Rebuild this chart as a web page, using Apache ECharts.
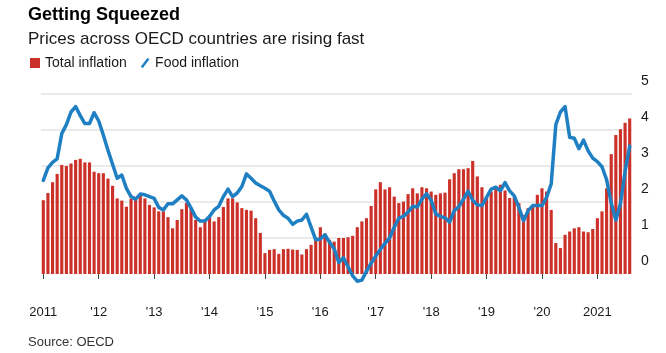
<!DOCTYPE html>
<html>
<head>
<meta charset="utf-8">
<title>Getting Squeezed</title>
<script src="https://cdn.jsdelivr.net/npm/echarts@6/dist/echarts.min.js"></script>
<style>
	html, body {
		margin: 0;
		padding: 0;
		background: #fff;
	}

	#chart {
		width: 666px;
		height: 353px;
	}
</style>
</head>
<body>
<div id="chart"></div>
<script>
	// monthly, Jan 2011 .. Aug 2021, year-on-year change in %
	const years = [2011, 2012, 2013, 2014, 2015, 2016, 2017, 2018, 2019, 2020, 2021];
	const yearLabels = ['2011', "'12", "'13", "'14", "'15", "'16", "'17", "'18", "'19", "'20", '2021'];

	const totalInflation = [
		2.05, 2.25, 2.55, 2.78, 3.03, 3.0, 3.07, 3.17, 3.2, 3.1, 3.1, 2.84,
		2.8, 2.8, 2.65, 2.45, 2.1, 2.04, 1.87, 2.09, 2.1, 2.2, 2.1, 1.92,
		1.85, 1.74, 1.74, 1.58, 1.27, 1.5, 1.8, 1.97, 1.83, 1.5, 1.3, 1.49,
		1.64, 1.46, 1.58, 1.86, 2.1, 2.1, 1.99, 1.83, 1.78, 1.76, 1.55, 1.14,
		0.58, 0.67, 0.69, 0.56, 0.69, 0.7, 0.68, 0.67, 0.54, 0.69, 0.81, 0.95,
		1.3, 1.12, 0.95, 0.9, 1.0, 1.0, 1.02, 1.06, 1.3, 1.46, 1.55, 1.89,
		2.35, 2.55, 2.35, 2.41, 2.15, 1.97, 2.01, 2.22, 2.38, 2.24, 2.41, 2.38,
		2.29, 2.2, 2.24, 2.26, 2.63, 2.8, 2.91, 2.91, 2.94, 3.14, 2.71, 2.41,
		2.13, 2.29, 2.43, 2.48, 2.32, 2.11, 2.13, 1.97, 1.64, 1.83, 1.92, 2.2,
		2.38, 2.29, 1.78, 0.86, 0.72, 1.09, 1.18, 1.27, 1.3, 1.18, 1.16, 1.25,
		1.55, 1.74, 2.38, 3.33, 3.86, 4.02, 4.2, 4.32
	];

	const foodInflation = [
		2.6, 2.95, 3.1, 3.2, 3.9, 4.15, 4.5, 4.65, 4.4, 4.18, 4.18, 4.48,
		4.25, 3.86, 3.44, 3.05, 2.66, 2.75, 2.38, 2.15, 2.08, 2.22, 2.2, 2.15,
		2.1, 1.85, 1.78, 1.95, 1.95, 2.06, 2.17, 2.06, 1.83, 1.58, 1.47, 1.47,
		1.6, 1.78, 1.88, 2.15, 2.36, 2.15, 2.25, 2.43, 2.78, 2.66, 2.53, 2.45,
		2.38, 2.3, 2.03, 1.78, 1.63, 1.55, 1.38, 1.47, 1.5, 1.66, 1.3, 0.95,
		0.97, 1.09, 0.88, 0.7, 0.32, 0.45, 0.2, -0.05, -0.2, -0.17, 0.08, 0.3,
		0.5, 0.68, 0.85, 1.0, 1.3, 1.55, 1.6, 1.72, 1.88, 1.86, 2.08, 2.23,
		2.05, 1.67, 1.6, 1.56, 1.44, 1.76, 1.87, 2.08, 2.3, 2.05, 1.92, 1.9,
		2.13, 2.36, 2.41, 2.31, 2.54, 2.31, 2.17, 1.85, 1.48, 1.76, 1.9, 1.9,
		1.9, 2.13, 2.5, 4.15, 4.5, 4.65, 3.8, 3.77, 3.48, 3.72, 3.42, 3.22,
		3.12, 2.98, 2.62, 1.97, 1.5, 1.95, 2.85, 3.55
	];

	const months = [];
	years.forEach(y => {
		for (let m = 1; m <= 12; m++) {
			if (months.length < totalInflation.length) {
				months.push(y + '-' + (m < 10 ? '0' + m : m));
			}
		}
	});

	const red = '#cc3129';
	const blue = '#1e7fc3';
	const clear = 'rgba(0,0,0,0)';
	// only the 1..5 lines are drawn, the half steps and 0 stay invisible
	const gridColors = [clear, clear, clear, '#e3e3e3', clear, '#e3e3e3',
		clear, '#e3e3e3', clear, '#e3e3e3', clear, '#e3e3e3'];

	const chart = echarts.init(document.getElementById('chart'), null, { renderer: 'canvas' });

	const option = {
		animation: false,
		textStyle: {
			fontFamily: '"Liberation Sans", Arial, sans-serif'
		},
		title: [{
				text: 'Getting Squeezed',
				left: 28,
				top: 6,
				padding: 0,
				textStyle: { fontSize: 18, fontWeight: 'bold', color: '#000' }
			},
			{
				text: 'Prices across OECD countries are rising fast',
				left: 28,
				top: 31,
				padding: 0,
				textStyle: { fontSize: 17, fontWeight: 'normal', color: '#1a1a1a' }
			},
			{
				text: 'Source: OECD',
				left: 28,
				top: 336,
				padding: 0,
				textStyle: { fontSize: 13, fontWeight: 'normal', color: '#333' }
			}
		],
		legend: {
			left: 30,
			top: 56,
			padding: 0,
			itemWidth: 10,
			itemHeight: 10,
			itemGap: 14,
			textStyle: { fontSize: 14, color: '#1a1a1a' },
			data: [
				{ name: 'Total inflation', icon: 'rect', itemStyle: { color: red } },
				{ name: 'Food inflation', icon: 'path://M0,10L7.5,0L10,1.4L2.5,11.4Z', itemStyle: { color: blue } }
			]
		},
		grid: {
			left: 41,
			right: 34,
			top: 94,
			bottom: 61
		},
		xAxis: {
			type: 'category',
			data: months,
			boundaryGap: true,
			// line kept but invisible, so the year ticks still get drawn
			axisLine: { show: true, lineStyle: { color: clear } },
			axisTick: {
				show: true,
				alignWithLabel: true,
				length: 5,
				interval: (index) => index % 12 === 0,
				lineStyle: { color: '#444', width: 1 }
			},
			axisLabel: {
				interval: (index) => index % 12 === 0,
				formatter: (value, index) => yearLabels[Math.floor(index / 12)],
				margin: 14,
				fontSize: 13,
				color: '#1a1a1a'
			},
			splitLine: { show: false }
		},
		yAxis: {
			type: 'value',
			position: 'right',
			min: -0.5,
			max: 5,
			interval: 0.5,
			axisLine: { show: false },
			axisTick: { show: false },
			axisLabel: {
				formatter: (v) => (v >= 0 && Number.isInteger(v)) ? String(v) : '',
				margin: 9,
				fontSize: 14,
				color: '#1a1a1a',
				verticalAlign: 'bottom',
				padding: [0, 0, 6, 0]
			},
			splitLine: {
				show: true,
				lineStyle: { color: gridColors, width: 1.5 }
			}
		},
		series: [{
				name: 'Total inflation',
				type: 'bar',
				data: totalInflation,
				barCategoryGap: '32%',
				itemStyle: { color: red },
				z: 2
			},
			{
				name: 'Food inflation',
				type: 'line',
				data: foodInflation,
				showSymbol: false,
				symbol: 'none',
				itemStyle: { color: blue },
				lineStyle: { color: blue, width: 3.5, join: 'round', cap: 'round' },
				z: 3
			}
		]
	};

	chart.setOption(option);
</script>
</body>
</html>
